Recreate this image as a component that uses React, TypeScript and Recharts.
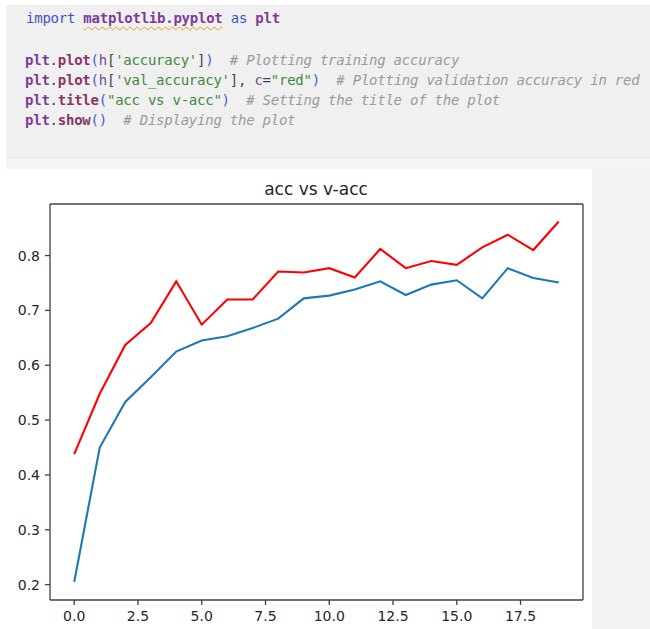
import { LineChart, Line, XAxis, YAxis, ReferenceLine } from "recharts";

const epochs = [0, 1, 2, 3, 4, 5, 6, 7, 8, 9, 10, 11, 12, 13, 14, 15, 16, 17, 18, 19];
const accuracy = [
  0.205, 0.45, 0.533, 0.578, 0.625, 0.645, 0.653, 0.668, 0.685, 0.722,
  0.727, 0.738, 0.753, 0.728, 0.747, 0.755, 0.722, 0.777, 0.759, 0.751,
];
const valAccuracy = [
  0.438, 0.548, 0.637, 0.677, 0.753, 0.674, 0.72, 0.72, 0.771, 0.769,
  0.777, 0.76, 0.812, 0.777, 0.79, 0.783, 0.815, 0.838, 0.81, 0.862,
];
const xTicks = [0, 2.5, 5, 7.5, 10, 12.5, 15, 17.5];
const yTicks = [0.2, 0.3, 0.4, 0.5, 0.6, 0.7, 0.8];
const xDomain: [number, number] = [-0.95, 19.95];
const yDomain: [number, number] = [0.172, 0.894];

const data = epochs.map((e, i) => ({ epoch: e, acc: accuracy[i], val: valAccuracy[i] }));

const C = {
  kw: "#3d55c9",
  mod: "#7a3c98",
  fn: "#8a3466",
  paren: "#3b5ec9",
  str: "#3f8a3a",
  txt: "#444",
  var: "#7a4a9b",
  cmt: "#9a9a9a",
};

const mono: React.CSSProperties = {
  position: "absolute",
  left: 25,
  fontFamily: "'DejaVu Sans Mono', monospace",
  fontSize: 14,
  letterSpacing: -0.24,
  lineHeight: "20px",
  whiteSpace: "pre",
  color: C.txt,
};

const B = ({ c, children }: { c: string; children: React.ReactNode }) => (
  <span style={{ color: c, fontWeight: 700 }}>{children}</span>
);
const S = ({ c, children }: { c: string; children: React.ReactNode }) => (
  <span style={{ color: c }}>{children}</span>
);
const Cm = ({ children }: { children: React.ReactNode }) => (
  <span style={{ color: C.cmt, fontStyle: "italic" }}>{children}</span>
);

const tickStyle = { fontSize: 14, fill: "#262626", fontFamily: "'DejaVu Sans', sans-serif" };

export default function App() {
  return (
    <div style={{ position: "absolute", left: 0, top: 0, width: 650, height: 629, overflow: "hidden", background: "#fff" }}>
      {/* code cell */}
      <div style={{ position: "absolute", left: 6, top: 5, width: 644, height: 152, background: "#f0f0f0" }} />
      <div style={{ position: "absolute", left: 6, top: 157, width: 644, height: 1, background: "#e0e8df" }} />
      <div style={{ position: "absolute", left: 6, top: 158, width: 644, height: 11, background: "#f4f4f4" }} />
      <div style={{ position: "absolute", left: 592, top: 169, width: 58, height: 460, background: "#f3f3f3" }} />

      <div style={{ ...mono, left: 26, top: 7.9 }}>
        <S c={C.kw}>import</S>{" "}
        <span style={{ color: C.mod, fontWeight: 700, textDecoration: "underline wavy #e0a020", textDecorationThickness: 1, textUnderlineOffset: 3 }}>
          matplotlib.pyplot
        </span>{" "}
        <S c={C.kw}>as</S> <B c={C.mod}>plt</B>
      </div>
      <div style={{ ...mono, top: 50.2 }}>
        <B c={C.mod}>plt</B>.<B c={C.fn}>plot</B><S c={C.paren}>(</S><S c={C.var}>h</S>[<S c={C.str}>'accuracy'</S>]<S c={C.paren}>)</S>  <Cm># Plotting training accuracy</Cm>
      </div>
      <div style={{ ...mono, top: 70.2 }}>
        <B c={C.mod}>plt</B>.<B c={C.fn}>plot</B><S c={C.paren}>(</S><S c={C.var}>h</S>[<S c={C.str}>'val_accuracy'</S>], <S c={C.var}>c</S>=<S c={C.str}>"red"</S><S c={C.paren}>)</S>  <Cm># Plotting validation accuracy in red</Cm>
      </div>
      <div style={{ ...mono, top: 90.2 }}>
        <B c={C.mod}>plt</B>.<B c={C.fn}>title</B><S c={C.paren}>(</S><S c={C.str}>"acc vs v-acc"</S><S c={C.paren}>)</S>  <Cm># Setting the title of the plot</Cm>
      </div>
      <div style={{ ...mono, top: 110.2 }}>
        <B c={C.mod}>plt</B>.<B c={C.fn}>show</B><S c={C.paren}>()</S>  <Cm># Displaying the plot</Cm>
      </div>

      {/* chart */}
      <div style={{ position: "absolute", left: 0, top: 169 }}>
        <LineChart width={592} height={460} data={data} margin={{ top: 35, right: 9, left: 0, bottom: 0 }}>
          <XAxis
            dataKey="epoch"
            type="number"
            domain={xDomain}
            ticks={xTicks}
            allowDataOverflow
            tickFormatter={(v: number) => v.toFixed(1)}
            tick={tickStyle}
            stroke="#404040"
            strokeWidth={1.3}
            tickSize={5}
            tickMargin={6}
            height={29}
          />
          <YAxis
            type="number"
            domain={yDomain}
            ticks={yTicks}
            allowDataOverflow
            tickFormatter={(v: number) => v.toFixed(1)}
            tick={tickStyle}
            stroke="#404040"
            strokeWidth={1.3}
            tickSize={5}
            tickMargin={5}
            width={50}
          />
          <ReferenceLine x={xDomain[1]} stroke="#404040" strokeWidth={1.3} />
          <ReferenceLine y={yDomain[1]} stroke="#404040" strokeWidth={1.3} />
          <Line dataKey="acc" type="linear" stroke="#1f77b4" strokeWidth={2.1} dot={false} isAnimationActive={false} />
          <Line dataKey="val" type="linear" stroke="#ff0000" strokeWidth={2.1} dot={false} isAnimationActive={false} />
        </LineChart>
      </div>

      <svg width={650} height={629} style={{ position: "absolute", left: 0, top: 0, pointerEvents: "none" }}>
        <text x={316} y={195} textAnchor="middle" fontSize={17} fill="#262626" fontFamily="'DejaVu Sans', sans-serif">
          acc vs v-acc
        </text>
      </svg>
    </div>
  );
}
